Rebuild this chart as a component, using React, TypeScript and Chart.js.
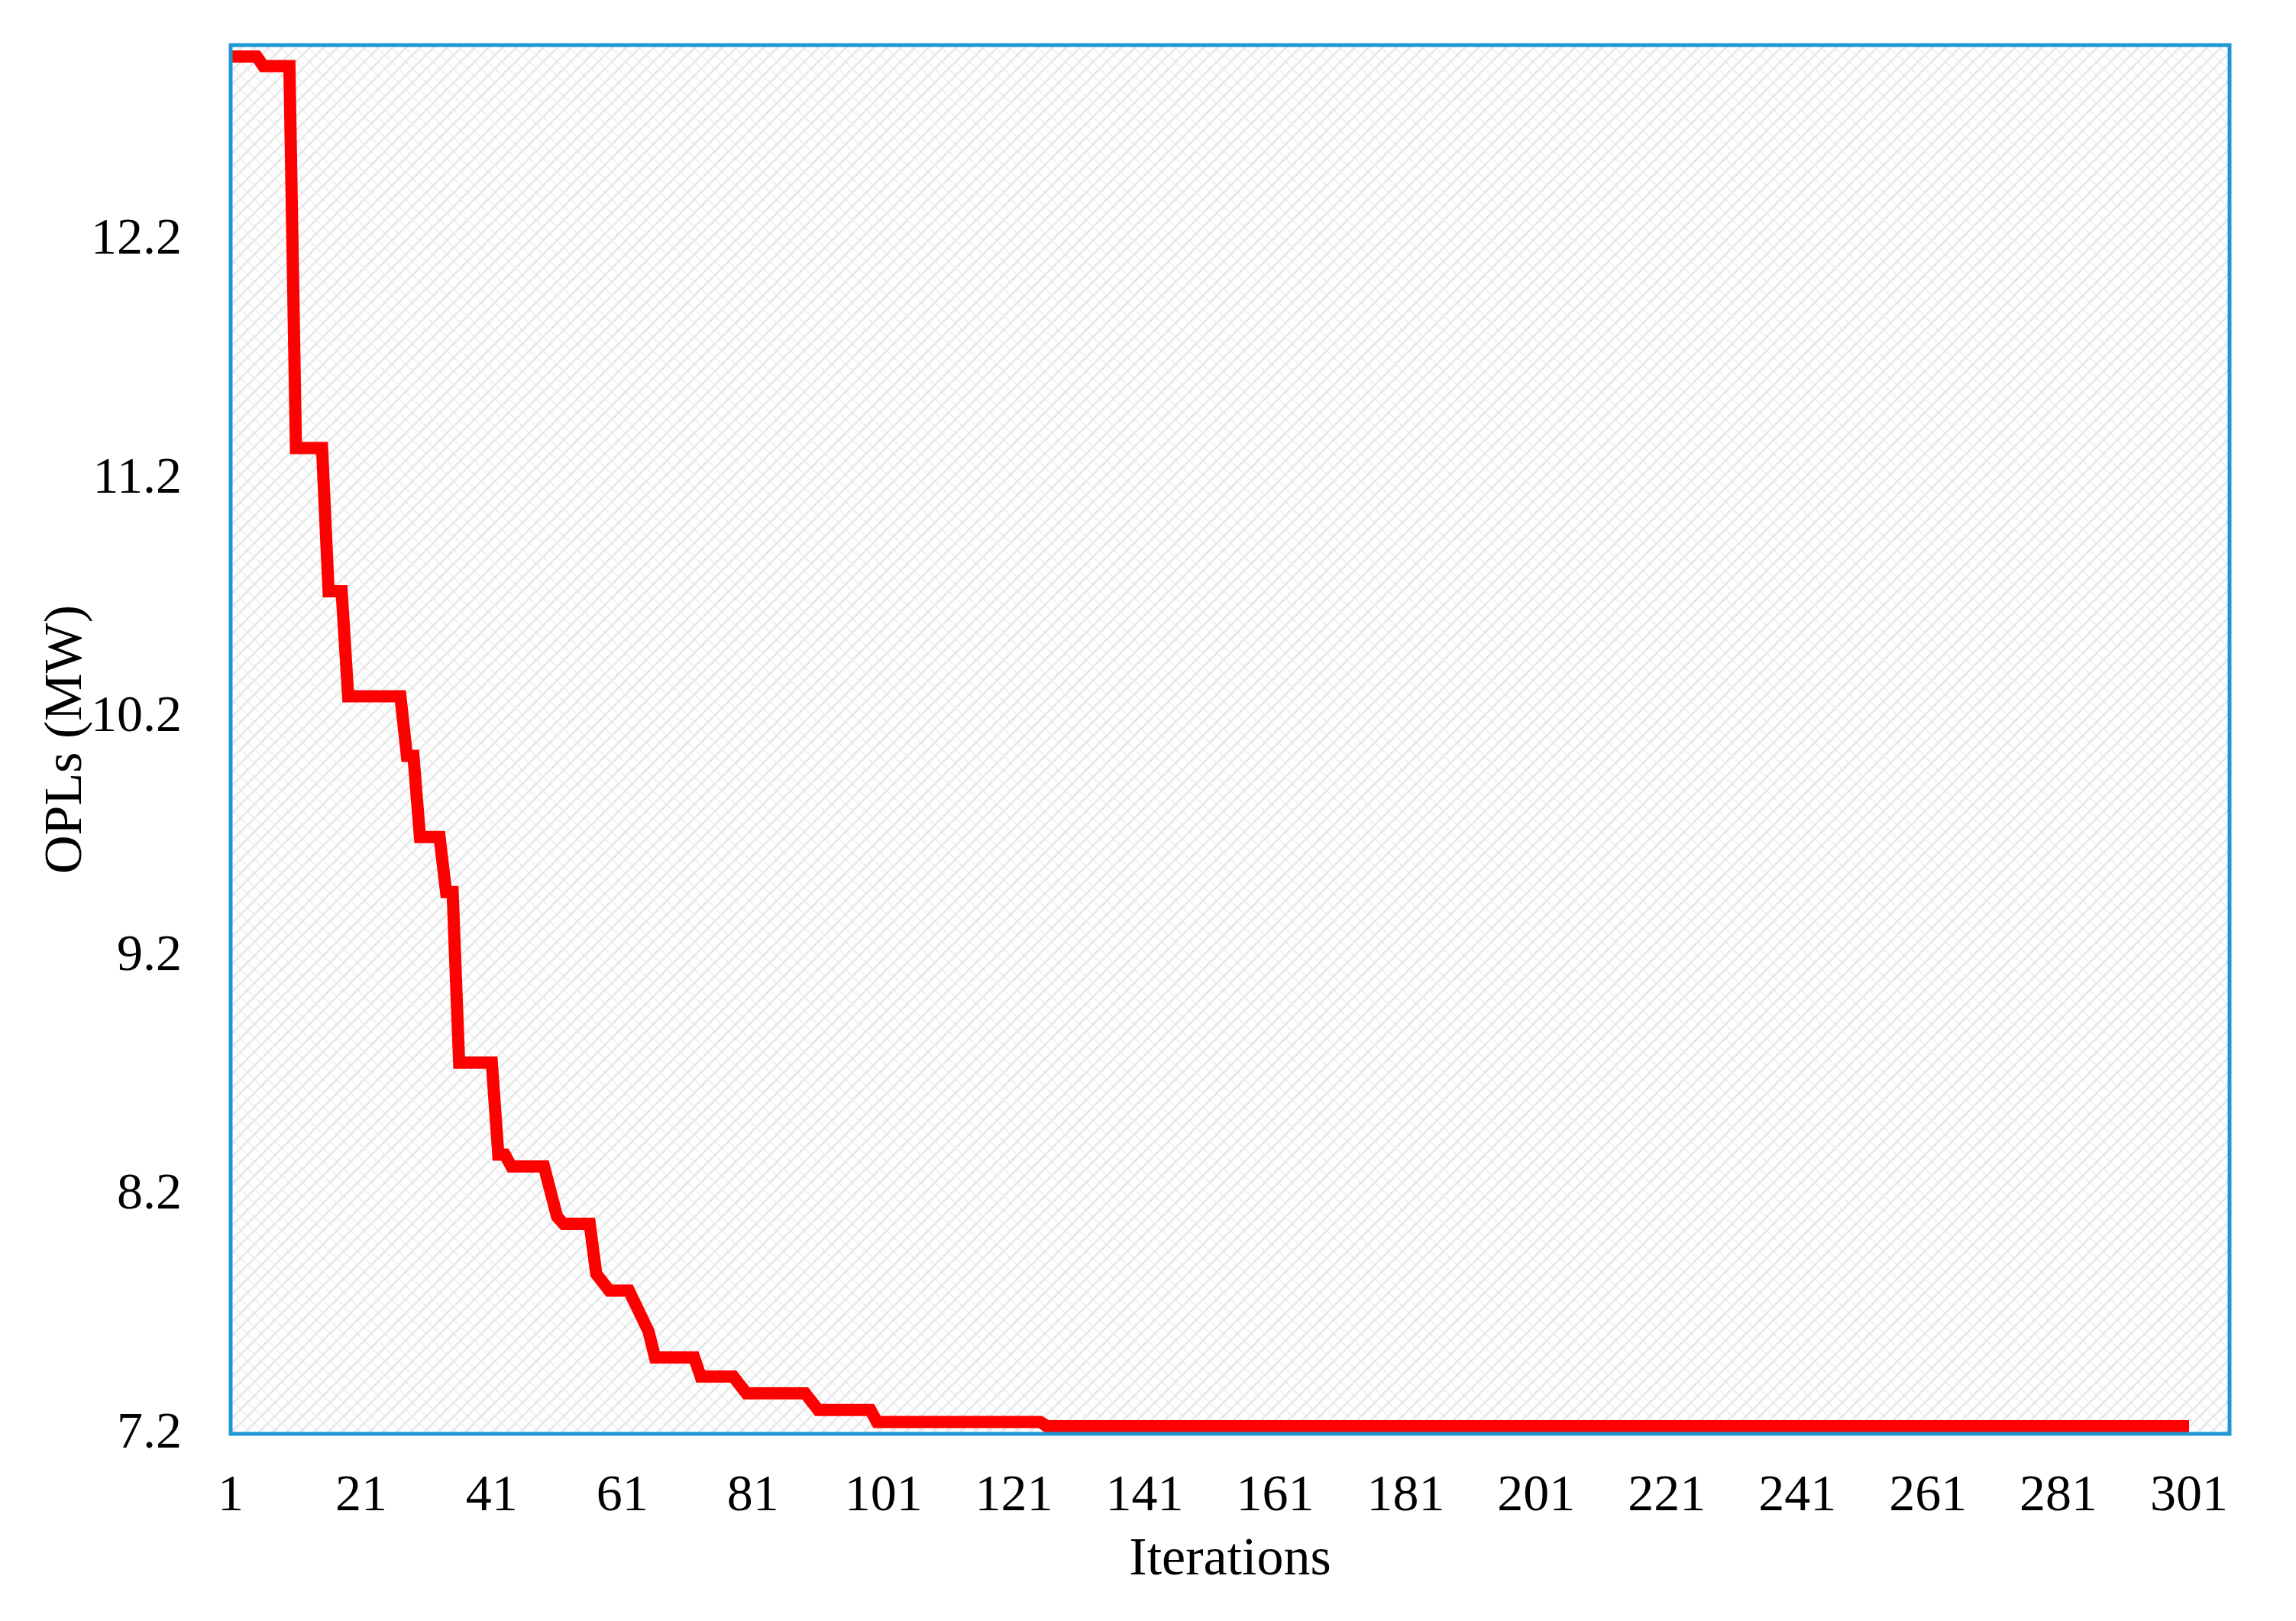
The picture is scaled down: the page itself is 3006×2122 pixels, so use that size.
import React, { useEffect, useRef } from 'react';
import { Chart, registerables } from 'chart.js';
import type { ChartConfiguration, Plugin } from 'chart.js';

Chart.register(...registerables);

// breakpoints of the best-so-far curve: iteration -> OPLs (MW)
const iterations = [1, 5, 6, 10, 11, 15, 16, 18, 19, 27, 28, 29, 30, 33, 34, 35, 36, 41, 42, 43, 44, 49, 51, 52, 56, 57, 59, 62, 65, 66, 72, 73, 78, 80, 89, 91, 99, 100, 125, 126, 301];
const oplValues = [12.97, 12.97, 12.93, 12.93, 11.33, 11.33, 10.73, 10.73, 10.29, 10.29, 10.04, 10.04, 9.7, 9.7, 9.47, 9.47, 8.755, 8.755, 8.37, 8.37, 8.32, 8.32, 8.11, 8.08, 8.08, 7.87, 7.8, 7.8, 7.63, 7.52, 7.52, 7.44, 7.44, 7.37, 7.37, 7.3, 7.3, 7.25, 7.25, 7.232, 7.232];

const xTickValues = [1, 21, 41, 61, 81, 101, 121, 141, 161, 181, 201, 221, 241, 261, 281, 301];
const yTickValues = [7.2, 8.2, 9.2, 10.2, 11.2, 12.2];

const FONT = "'Liberation Serif', 'Times New Roman', serif";

const makeHatch = (): CanvasPattern | string => {
  const tile = document.createElement('canvas');
  tile.width = 18;
  tile.height = 18;
  const t = tile.getContext('2d');
  if (!t) return '#f7f7f7';
  t.fillStyle = '#ffffff';
  t.fillRect(0, 0, 18, 18);
  t.strokeStyle = '#f2f2f2';
  t.lineWidth = 2;
  t.beginPath();
  t.moveTo(0, 0);
  t.lineTo(18, 18);
  t.stroke();
  t.strokeStyle = '#e9e9e9';
  t.lineWidth = 3;
  t.beginPath();
  t.moveTo(-2, 20);
  t.lineTo(20, -2);
  t.moveTo(-11, 11);
  t.lineTo(11, -11);
  t.moveTo(7, 29);
  t.lineTo(29, 7);
  t.stroke();
  const p = t.createPattern(tile, 'repeat');
  return p ?? '#f7f7f7';
};

const plotFrame: Plugin<'line'> = {
  id: 'plotFrame',
  beforeDatasetsDraw(chart) {
    const { ctx, chartArea } = chart;
    ctx.save();
    ctx.fillStyle = makeHatch();
    ctx.fillRect(chartArea.left, chartArea.top, chartArea.right - chartArea.left, chartArea.bottom - chartArea.top);
    ctx.restore();
  },
  afterDatasetsDraw(chart) {
    const { ctx, chartArea } = chart;
    ctx.save();
    ctx.strokeStyle = '#1f97d4';
    ctx.lineWidth = 5;
    ctx.strokeRect(chartArea.left, chartArea.top, chartArea.right - chartArea.left, chartArea.bottom - chartArea.top);
    ctx.restore();
  },
};

export default function App() {
  const canvasRef = useRef<HTMLCanvasElement | null>(null);

  useEffect(() => {
    const canvas = canvasRef.current;
    if (!canvas) return;
    const ctx = canvas.getContext('2d');
    if (!ctx) return;

    const points = iterations.map((it, i) => ({ x: it, y: oplValues[i] }));

    const config: ChartConfiguration<'line', { x: number; y: number }[]> = {
      type: 'line',
      data: {
        datasets: [
          {
            label: 'OPLs',
            data: points,
            borderColor: '#ff0000',
            borderWidth: 16,
            borderJoinStyle: 'miter',
            borderCapStyle: 'butt',
            pointRadius: 0,
            tension: 0,
            fill: false,
          },
        ],
      },
      options: {
        animation: false,
        responsive: true,
        maintainAspectRatio: false,
        devicePixelRatio: 1,
        layout: { padding: { left: 0, right: 87, top: 59, bottom: 0 } },
        plugins: {
          legend: { display: false },
          tooltip: { enabled: false },
        },
        scales: {
          x: {
            type: 'linear',
            min: 1,
            max: 307.2,
            grid: { display: false, drawTicks: false },
            border: { display: false },
            afterBuildTicks: (scale) => {
              scale.ticks = xTickValues.map((v) => ({ value: v }));
            },
            afterFit: (scale) => {
              scale.height = 245;
              scale.paddingLeft = 0;
              scale.paddingRight = 0;
            },
            ticks: {
              color: '#000',
              padding: 41,
              maxRotation: 0,
              autoSkip: false,
              font: { family: FONT, size: 68 },
              callback: (v) => String(v),
            },
            title: {
              display: true,
              text: 'Iterations',
              color: '#000',
              font: { family: FONT, size: 70 },
              padding: { top: 0, bottom: 37 },
            },
          },
          y: {
            type: 'linear',
            min: 7.2,
            max: 13.018,
            grid: { display: false, drawTicks: false },
            border: { display: false },
            afterBuildTicks: (scale) => {
              scale.ticks = yTickValues.map((v) => ({ value: v }));
            },
            afterFit: (scale) => {
              scale.width = 302;
              scale.paddingTop = 0;
              scale.paddingBottom = 0;
            },
            ticks: {
              color: '#000',
              padding: 64,
              font: { family: FONT, size: 68 },
              callback: (v) => Number(v).toFixed(1),
            },
            title: {
              display: true,
              text: 'OPLs (MW)',
              color: '#000',
              font: { family: FONT, size: 70 },
              padding: { top: 46, bottom: 0 },
            },
          },
        },
      },
      plugins: [plotFrame],
    };

    const chart = new Chart(ctx, config);
    return () => chart.destroy();
  }, []);

  return (
    <div style={{ position: 'fixed', left: 0, top: 0, width: 3006, height: 2122, background: '#fff' }}>
      <canvas ref={canvasRef} />
    </div>
  );
}
